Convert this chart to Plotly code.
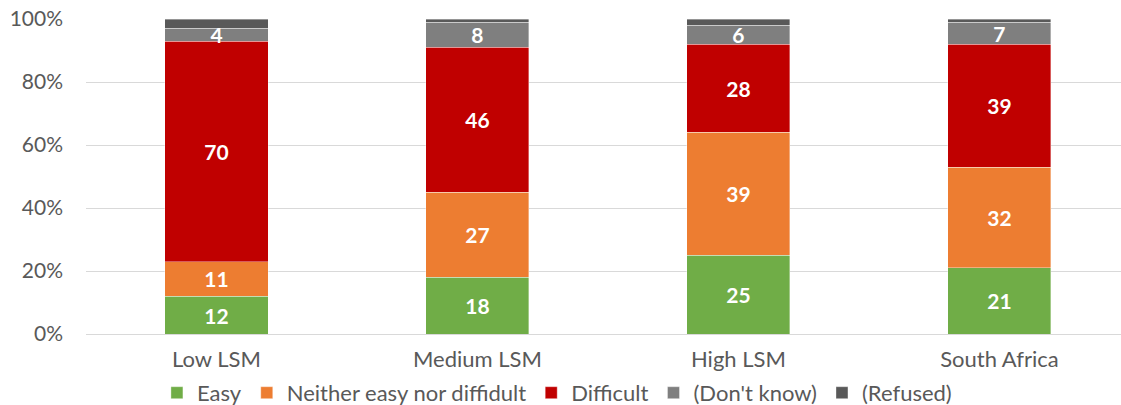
import plotly.graph_objects as go

categories = ["Low LSM", "Medium LSM", "High LSM", "South Africa"]
easy = [12, 18, 25, 21]
neither = [11, 27, 39, 32]
difficult = [70, 46, 28, 39]
dont_know = [4, 8, 6, 7]
refused = [3, 1, 2, 1]

series = [
    ("Easy", easy, "#70AD47", True),
    ("Neither easy nor diffidult", neither, "#ED7D31", True),
    ("Difficult", difficult, "#C00000", True),
    ("(Don't know)", dont_know, "#7F7F7F", True),
    ("(Refused)", refused, "#595959", False),
]

FONT = "Lato, 'Open Sans', sans-serif"

fig = go.Figure()
for name, vals, color, labelled in series:
    fig.add_trace(go.Bar(
        name=name,
        x=categories,
        y=vals,
        marker=dict(color=color, line=dict(color="rgba(255,255,255,0.6)", width=0.6)),
        text=[str(v) for v in vals] if labelled else None,
        textposition="inside" if labelled else "none",
        insidetextanchor="middle",
        textangle=0,
        constraintext="none",
        textfont=dict(family=FONT, size=21, color="white", weight="bold"),
        hoverinfo="skip",
    ))

fig.update_layout(
    barmode="stack",
    bargap=0.605,
    width=1121,
    height=405,
    margin=dict(l=86, r=0, t=19, b=71, autoexpand=False),
    paper_bgcolor="white",
    plot_bgcolor="white",
    font=dict(family=FONT, size=20, color="#595959"),
    showlegend=True,
    legend=dict(
        orientation="h",
        x=0.455, xanchor="center",
        y=-0.187, yanchor="middle",
        font=dict(family=FONT, size=22, color="#595959"),
        traceorder="normal",
        itemwidth=30,
        tracegroupgap=0,
    ),
    xaxis=dict(
        range=[-0.5, 3.466],
        showgrid=False,
        showline=False,
        ticks="",
        ticklabelstandoff=10,
        tickfont=dict(family=FONT, size=22, color="#595959"),
    ),
    yaxis=dict(
        range=[0, 100],
        tickvals=[0, 20, 40, 60, 80, 100],
        ticktext=["0%", "20%", "40%", "60%", "80%", "100%"],
        showgrid=True,
        gridcolor="#D9D9D9",
        gridwidth=1.3,
        zeroline=True,
        zerolinecolor="#D9D9D9",
        zerolinewidth=1.3,
        showline=False,
        ticks="",
        ticklabelstandoff=22,
        tickfont=dict(family=FONT, size=21, color="#595959"),
    ),
)

fig.write_html("out.html")
